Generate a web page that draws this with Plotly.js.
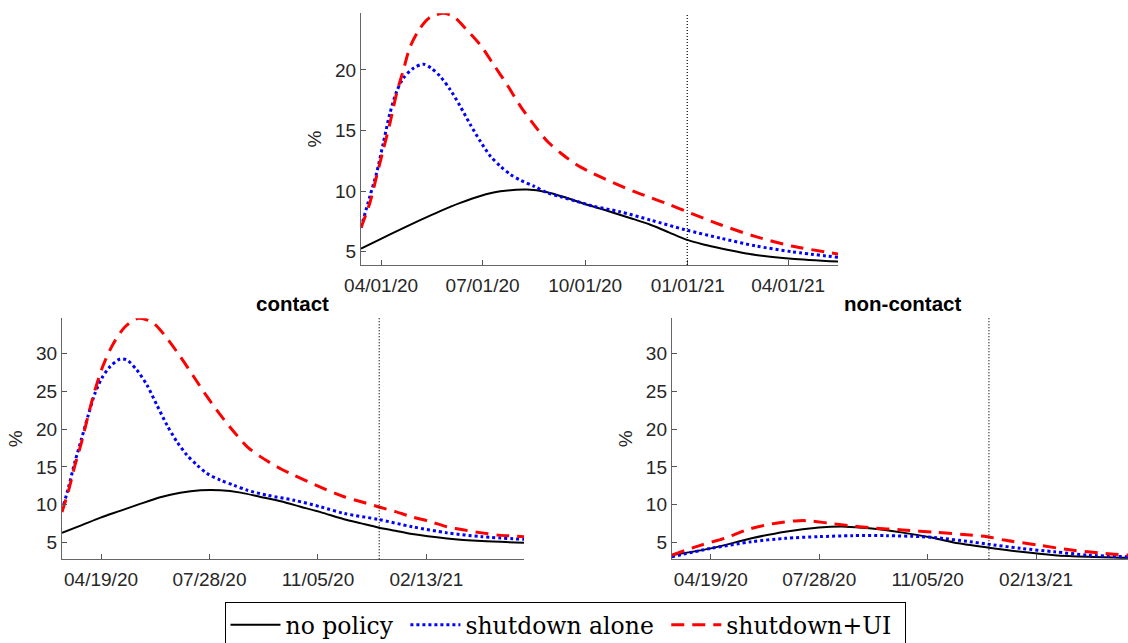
<!DOCTYPE html>
<html><head><meta charset="utf-8">
<script src="https://cdn.plot.ly/plotly-3.0.1.min.js"></script>
<style>html,body{margin:0;padding:0;background:#fff}#chart{width:1128px;height:643px}</style>
</head><body><div id="chart"></div>
<script>
// ---- data (days since 2020-03-14, values in %) ----
const startDate = [2020, 2, 14];
const vlineDate = '2020-12-31 12:00';
const seriesNames = ['no policy', 'shutdown alone', 'shutdown+UI'];
const panelTitles = ['contact', 'non-contact'];

// aggregate (top)
const aggNoPolicyDays = [0, 17, 35, 53, 71, 89, 107, 125, 149, 167, 184, 202, 220, 232, 244, 260, 276, 291, 307, 323, 354, 386, 428];
const aggNoPolicy     = [5.25, 6.02, 6.82, 7.6, 8.35, 9.03, 9.6, 9.98, 10.13, 9.91, 9.45, 8.9, 8.4, 8.05, 7.7, 7.2, 6.6, 6.02, 5.6, 5.27, 4.73, 4.42, 4.18];
const aggShutDays = [0, 8, 14, 20, 26, 32, 38, 47, 56, 63, 71, 80, 89, 98, 107, 116, 125, 134, 143, 155, 167, 179, 193, 208, 232, 260, 291, 323, 354, 386, 428];
const aggShut     = [6.98, 9.58, 11.5, 13.98, 16.45, 18.23, 19.33, 20.15, 20.48, 20.15, 19.47, 18.37, 17.0, 15.49, 14.11, 12.88, 12.05, 11.37, 10.9, 10.41, 9.86, 9.53, 9.17, 8.76, 8.3, 7.6, 6.8, 6.1, 5.47, 5.0, 4.53];
const aggUIDays = [0, 8, 14, 20, 26, 32, 38, 44, 53, 62, 74, 83, 95, 107, 119, 131, 143, 155, 167, 179, 193, 208, 226, 244, 260, 276, 291, 323, 354, 386, 428];
const aggUI     = [6.98, 9.04, 11.23, 13.43, 15.62, 18.09, 20.0, 21.9, 23.45, 24.35, 24.68, 24.4, 23.3, 22.07, 20.43, 18.78, 17.0, 15.49, 14.11, 13.15, 12.19, 11.45, 10.7, 10.0, 9.45, 8.9, 8.35, 7.2, 6.24, 5.47, 4.81];

// contact (bottom left)
const conNoPolicyDays = [0, 16.5, 35, 53.6, 72, 90.6, 109, 127.7, 146, 164.7, 183, 201.7, 220, 239, 260, 276, 291.6, 307.5, 323, 355, 387, 426];
const conNoPolicy     = [6.32, 7.22, 8.28, 9.2, 10.12, 11.0, 11.6, 11.92, 11.92, 11.61, 11.04, 10.47, 9.75, 9.0, 8.1, 7.55, 7.02, 6.58, 6.14, 5.57, 5.22, 5.0];
const conShutDays = [0, 5.7, 11.9, 18.1, 24.2, 30.4, 36.6, 44.3, 53.6, 59.7, 69, 78.3, 87.5, 96.8, 106, 115.3, 124.6, 133.8, 146.2, 158.5, 170.9, 189.4, 214.1, 238.8, 260, 291.6, 323, 355, 387, 426];
const conShut     = [9.3, 12.14, 15.67, 18.76, 21.84, 24.71, 26.69, 28.24, 29.25, 29.12, 27.8, 25.81, 23.17, 20.52, 18.32, 16.55, 15.23, 14.13, 13.25, 12.58, 11.92, 11.26, 10.6, 9.72, 8.87, 8.08, 7.1, 6.3, 5.8, 5.44];
const conUIDays = [0, 5.7, 11.9, 18.1, 24.2, 30.4, 38.1, 47.4, 58.2, 70.6, 84.4, 96.8, 109.1, 121.5, 133.8, 146.2, 158.5, 170.9, 183.3, 198.6, 214.1, 238.8, 260, 276, 291.6, 307.5, 323, 339, 355, 371, 387, 402.7, 426];
const conUI     = [9.06, 11.7, 15.2, 18.3, 21.84, 25.15, 28.46, 31.3, 33.5, 34.63, 33.97, 31.98, 29.56, 26.9, 24.27, 21.84, 19.64, 17.65, 16.33, 15.0, 13.9, 12.3, 11.07, 10.4, 9.75, 9.1, 8.4, 7.8, 7.1, 6.67, 6.3, 6.0, 5.8];

// non-contact (bottom right)
const nonNoPolicyDays = [0, 36, 73.6, 104.7, 135.7, 160.6, 182, 213, 238, 260, 291, 322, 353, 384, 421];
const nonNoPolicy     = [3.36, 4.25, 5.58, 6.46, 7.0, 7.12, 6.9, 6.33, 5.71, 5.04, 4.38, 3.8, 3.36, 3.14, 3.0];
const nonShutDays = [0, 36, 73.6, 104.7, 135.7, 166.8, 198, 229, 244, 275, 291, 322, 353, 384, 421];
const nonShut     = [3.14, 4.25, 5.13, 5.58, 5.8, 5.93, 5.93, 5.8, 5.66, 5.13, 4.82, 4.25, 3.8, 3.36, 3.14];
const nonUIDays = [0, 27, 49, 70.5, 92, 114, 126, 145, 164, 182, 213, 244, 275, 291, 306.5, 337.6, 368.6, 400, 421];
const nonUI     = [3.36, 4.69, 5.6, 6.77, 7.48, 7.88, 7.9, 7.57, 7.26, 6.99, 6.68, 6.37, 6.02, 5.8, 5.35, 4.69, 4.03, 3.58, 3.36];

const topTicks = ['2020-04-01', '2020-07-01', '2020-10-01', '2021-01-01', '2021-04-01'];
const bottomTicks = ['2020-04-19', '2020-07-28', '2020-11-05', '2021-02-13'];
const topYTicks = [5, 10, 15, 20];
const bottomYTicks = [5, 10, 15, 20, 25, 30];

// ---- helpers ----
function toDates(days) {
  const base = Date.UTC(startDate[0], startDate[1], startDate[2]);
  return days.map(d => new Date(base + d * 86400000).toISOString().slice(0, 19).replace('T', ' '));
}
const styles = [
  {color: '#000000', width: 2, dash: 'solid'},
  {color: '#0000ff', width: 3, dash: '3px,3px'},
  {color: '#ff0000', width: 3, dash: '13px,8px'}
];
function mk(days, vals, k, xa, ya, show) {
  return {x: toDates(days), y: vals, type: 'scatter', mode: 'lines', name: seriesNames[k] + '\u00a0',
    xaxis: xa, yaxis: ya, showlegend: show, legendgroup: 'g' + k,
    line: Object.assign({shape: 'spline', smoothing: 0.8}, styles[k]), hoverinfo: 'skip'};
}
const traces = [
  mk(aggNoPolicyDays, aggNoPolicy, 0, 'x', 'y', true),
  mk(aggShutDays, aggShut, 1, 'x', 'y', true),
  mk(aggUIDays, aggUI, 2, 'x', 'y', true),
  mk(conNoPolicyDays, conNoPolicy, 0, 'x2', 'y2', false),
  mk(conShutDays, conShut, 1, 'x2', 'y2', false),
  mk(conUIDays, conUI, 2, 'x2', 'y2', false),
  mk(nonNoPolicyDays, nonNoPolicy, 0, 'x3', 'y3', false),
  mk(nonShutDays, nonShut, 1, 'x3', 'y3', false),
  mk(nonUIDays, nonUI, 2, 'x3', 'y3', false)
];

const W = 1128, H = 643;
const tickFont = {family: 'Liberation Sans, Arial, sans-serif', size: 19, color: '#262626'};
function xax(l, r, range, ticks, anchor) {
  return {domain: [l / W, r / W], range: range, type: 'date', anchor: anchor,
    tickvals: ticks, tickformat: '%m/%d/%y', ticks: 'inside', ticklen: 5, tickcolor: '#555',
    ticklabelstandoff: 3,
    showline: true, linecolor: '#666', linewidth: 1, showgrid: false, zeroline: false,
    tickfont: tickFont, fixedrange: true};
}
function yax(top, bot, range, ticks, anchor) {
  return {domain: [1 - bot / H, 1 - top / H], range: range, anchor: anchor,
    tickvals: ticks, ticks: 'inside', ticklen: 5, tickcolor: '#555',
    showline: true, linecolor: '#666', linewidth: 1, showgrid: false, zeroline: false,
    tickfont: tickFont, fixedrange: true,
    title: {text: '%', font: {family: 'Liberation Sans, Arial, sans-serif', size: 19, color: '#262626'}, standoff: 8}};
}
const vshape = (xa, ya) => ({type: 'line', xref: xa, yref: ya + ' domain', x0: vlineDate, x1: vlineDate, y0: 0, y1: 1,
  line: {color: '#000', width: 1.2, dash: '1px,2px'}});

const layout = {
  width: W, height: H,
  margin: {l: 0, r: 0, t: 0, b: 0, autoexpand: false},
  paper_bgcolor: '#fff', plot_bgcolor: '#fff',
  showlegend: true,
  xaxis: xax(361, 838, ['2020-03-14', '2021-05-15 16:00'], topTicks, 'y'),
  yaxis: yax(13.3, 265, [3.9, 24.68], topYTicks, 'x'),
  xaxis2: xax(62, 524, ['2020-03-14', '2021-05-14'], bottomTicks, 'y2'),
  yaxis2: yax(318.3, 559.3, [2.81, 34.62], bottomYTicks, 'x2'),
  xaxis3: xax(671.8, 1128, ['2020-03-14', '2021-05-08 19:00'], bottomTicks, 'y3'),
  yaxis3: yax(318.3, 559.3, [2.81, 34.62], bottomYTicks, 'x3'),
  shapes: [vshape('x', 'y'), vshape('x2', 'y2'), vshape('x3', 'y3')],
  annotations: [
    {text: '<b>' + panelTitles[0] + '</b>', xref: 'paper', yref: 'paper', x: 293 / W, y: 1 - 303 / H,
      xanchor: 'center', yanchor: 'middle', showarrow: false,
      font: {family: 'Liberation Sans, Arial, sans-serif', size: 20.5, color: '#000'}},
    {text: '<b>' + panelTitles[1] + '</b>', xref: 'paper', yref: 'paper', x: 903 / W, y: 1 - 303 / H,
      xanchor: 'center', yanchor: 'middle', showarrow: false,
      font: {family: 'Liberation Sans, Arial, sans-serif', size: 20.5, color: '#000'}}
  ],
  legend: {orientation: 'h', x: 224.5 / W, xanchor: 'left', y: 1 - 602 / H, yanchor: 'top',
    bordercolor: '#000', borderwidth: 1, bgcolor: '#fff', traceorder: 'normal', itemwidth: 50,
    font: {family: 'DejaVu Serif, serif', size: 23.5, color: '#000'}}
};

Plotly.newPlot('chart', traces, layout, {displayModeBar: false, staticPlot: true});
</script>
</body></html>
